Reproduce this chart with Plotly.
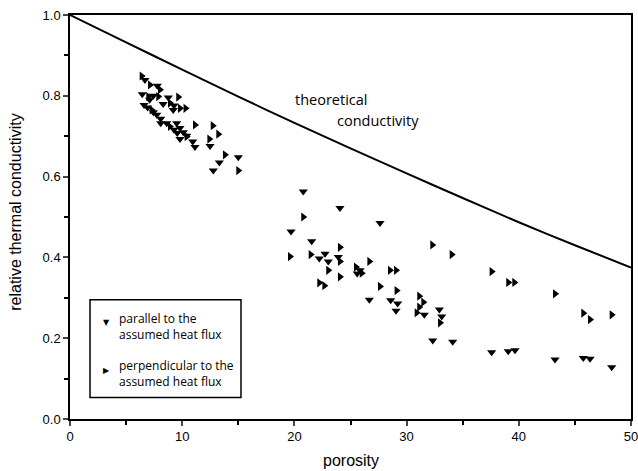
import plotly.graph_objects as go

# theoretical conductivity curve
theory_porosity = [0, 5, 10, 15, 20, 25, 30, 35, 40, 45, 50]
theory_value = [1.0, 0.932, 0.865, 0.798, 0.733, 0.670, 0.608, 0.547, 0.487, 0.430, 0.375]

# parallel to the assumed heat flux (down triangles)
par_porosity = [6.68, 7.78, 6.44, 7.43, 8.76, 9.27, 6.6, 6.92, 7.43, 7.73, 8.08, 8.08, 8.62,
                9.27, 9.56, 9.8, 9.51, 9.2, 9.8, 10.4, 10.94, 11.14, 12.48, 13.31, 15.0, 12.77,
                7.1, 8.3, 10.1,
                20.79, 24.06, 27.63, 19.7, 21.54, 22.22, 22.73, 23.02, 23.91, 25.85, 25.6,
                26.68, 28.58, 29.2, 29.06, 31.58, 32.92, 33.13, 32.33, 34.11,
                37.58, 39.06, 39.66, 43.23, 45.75, 46.35, 48.28]
par_value = [0.839, 0.825, 0.804, 0.80, 0.796, 0.776, 0.777, 0.771, 0.759, 0.753, 0.743, 0.732, 0.732,
             0.716, 0.708, 0.693, 0.732, 0.765, 0.72, 0.701, 0.687, 0.673, 0.676, 0.635, 0.648, 0.615,
             0.79, 0.78, 0.71,
             0.563, 0.522, 0.485, 0.464, 0.44, 0.397, 0.409, 0.39, 0.401, 0.368, 0.36,
             0.295, 0.294, 0.286, 0.268, 0.258, 0.271, 0.254, 0.194, 0.191,
             0.165, 0.168, 0.17, 0.147, 0.151, 0.149, 0.128]

# perpendicular to the assumed heat flux (right triangles)
perp_porosity = [6.39, 7.13, 8.02, 6.98, 7.87, 9.65, 8.91, 9.8, 10.3, 7.28, 8.91, 10.4, 11.14,
                 12.72, 13.22, 12.42, 13.81, 15.0,
                 20.79, 24.06, 19.61, 21.45, 24.06, 23.02, 24.06, 25.49, 26.0, 26.68, 22.22,
                 22.67, 27.63, 28.52, 29.06, 29.11, 31.13, 31.49, 31.13, 30.9, 32.98, 32.29,
                 34.02, 37.58, 39.06, 39.6, 43.23, 45.75, 46.35, 48.28]
perp_value = [0.849, 0.827, 0.815, 0.798, 0.798, 0.797, 0.782, 0.769, 0.769, 0.765, 0.724, 0.699, 0.728,
              0.726, 0.705, 0.693, 0.654, 0.615,
              0.50, 0.425, 0.402, 0.407, 0.39, 0.368, 0.352, 0.376, 0.361, 0.39, 0.337,
              0.33, 0.328, 0.368, 0.368, 0.318, 0.304, 0.289, 0.277, 0.263, 0.238, 0.431,
              0.407, 0.365, 0.338, 0.338, 0.31, 0.262, 0.246, 0.258]

x_ticks = [0, 10, 20, 30, 40, 50]
y_ticks = [0.0, 0.2, 0.4, 0.6, 0.8, 1.0]
y_tick_labels = ["0.0", "0.2", "0.4", "0.6", "0.8", "1.0"]

W, H = 638, 471
L, R, T, B = 70, 7, 15, 51.5
PW, PH = W - L - R, H - T - B


def px(xp):
    return (xp - L) / PW


def py(yp):
    return (H - B - yp) / PH


legend_font = "Open Sans, Noto Sans, sans-serif"
axis_font = "Liberation Sans, Arial, sans-serif"

fig = go.Figure()
fig.add_trace(go.Scatter(x=theory_porosity, y=theory_value, mode="lines",
                         line=dict(color="black", width=2, shape="spline", smoothing=0.6),
                         showlegend=False, hoverinfo="skip"))
fig.add_trace(go.Scatter(x=par_porosity, y=par_value, mode="markers",
                         name="parallel to the assumed heat flux", showlegend=False,
                         marker=dict(symbol="triangle-down", size=8, color="black")))
fig.add_trace(go.Scatter(x=perp_porosity, y=perp_value, mode="markers",
                         name="perpendicular to the assumed heat flux", showlegend=False,
                         marker=dict(symbol="triangle-right", size=8, color="black")))

fig.add_annotation(x=19.9, y=0.79, xref="x", yref="y", text="theoretical", showarrow=False,
                   xanchor="left", yanchor="middle", font=dict(family=legend_font, size=14.5, color="black"))
fig.add_annotation(x=23.6, y=0.74, xref="x", yref="y", text="conductivity", showarrow=False,
                   xanchor="left", yanchor="middle", font=dict(family=legend_font, size=14.5, color="black"))

# legend box (manual)
fig.add_shape(type="rect", xref="paper", yref="paper",
              x0=px(90), x1=px(241), y0=py(398), y1=py(300),
              line=dict(color="black", width=1.5), fillcolor="white", layer="above")
legend_items = [("\u25BC", "parallel to the<br>assumed heat flux", 323, 327),
                ("\u25B6", "perpendicular to the<br>assumed heat flux", 371, 374)]
for sym, txt, ysym, ytxt in legend_items:
    fig.add_annotation(x=px(106), y=py(ysym), xref="paper", yref="paper", text=sym,
                       showarrow=False, xanchor="center", yanchor="middle",
                       font=dict(family="DejaVu Sans", size=8, color="black"))
    fig.add_annotation(x=px(117), y=py(ytxt), xref="paper", yref="paper", text=txt,
                       showarrow=False, xanchor="left", yanchor="middle", align="left",
                       font=dict(family=legend_font, size=12, color="black"))

# axis titles
fig.add_annotation(x=px(351), y=py(461), xref="paper", yref="paper", text="porosity",
                   showarrow=False, xanchor="center", yanchor="middle",
                   font=dict(family=axis_font, size=16, color="black"))
fig.add_annotation(x=px(16), y=py(213), xref="paper", yref="paper", text="relative thermal conductivity",
                   showarrow=False, xanchor="center", yanchor="middle", textangle=-90,
                   font=dict(family=axis_font, size=16, color="black"))

fig.update_layout(
    width=W, height=H,
    margin=dict(l=L, r=R, t=T, b=B),
    paper_bgcolor="white", plot_bgcolor="white",
    font=dict(family=axis_font, size=12, color="black"),
    showlegend=False,
)
fig.update_xaxes(range=[0, 50], tickvals=x_ticks, ticks="outside", ticklen=5, tickwidth=1.5,
                 showline=True, linecolor="black", linewidth=1.5, mirror=True,
                 showgrid=False, zeroline=False, automargin=False, ticklabeloverflow="allow",
                 minor=dict(dtick=5, ticks="outside", ticklen=4, tickwidth=1.5, tickcolor="black"),
                 tickfont=dict(size=13))
fig.update_yaxes(range=[0, 1.0], tickvals=y_ticks, ticktext=y_tick_labels, ticks="outside",
                 ticklen=5, tickwidth=1.5,
                 showline=True, linecolor="black", linewidth=1.5, mirror=True,
                 showgrid=False, zeroline=False, automargin=False, ticklabeloverflow="allow",
                 minor=dict(dtick=0.1, ticks="outside", ticklen=4, tickwidth=1.5, tickcolor="black"),
                 tickfont=dict(size=13))

fig.write_html("out.html", config={"displayModeBar": False},
               post_script="document.body.style.margin='0';document.body.style.overflow='hidden';")
